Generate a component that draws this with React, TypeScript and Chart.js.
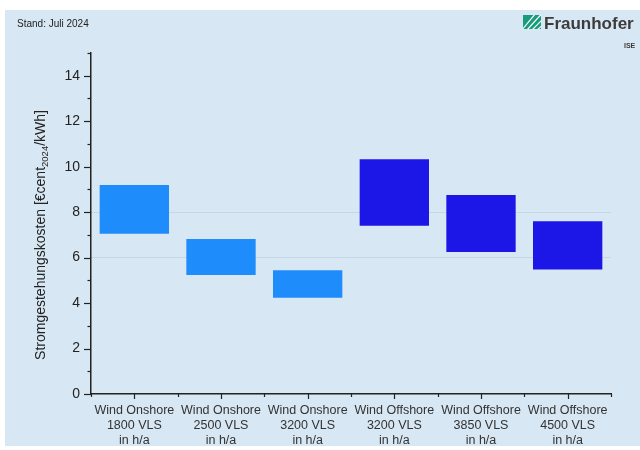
import { useEffect, useRef } from "react";
import { Chart, registerables } from "chart.js";

Chart.register(...registerables);

const categories: string[][] = [
  ["Wind Onshore", "1800 VLS", "in h/a"],
  ["Wind Onshore", "2500 VLS", "in h/a"],
  ["Wind Onshore", "3200 VLS", "in h/a"],
  ["Wind Offshore", "3200 VLS", "in h/a"],
  ["Wind Offshore", "3850 VLS", "in h/a"],
  ["Wind Offshore", "4500 VLS", "in h/a"],
];
const lowValues = [7.05, 5.24, 4.23, 7.4, 6.25, 5.48];
const highValues = [9.19, 6.82, 5.44, 10.33, 8.75, 7.6];
const barColors = ["#1f8cfb", "#1f8cfb", "#1f8cfb", "#1c17e6", "#1c17e6", "#1c17e6"];
const yMin = 0;
const yMax = 15;
const yLabelValues = [0, 2, 4, 6, 8, 10, 12, 14];
const gridValues = [6, 8];
const yTitleMain = "Stromgestehungskosten [€cent";
const yTitleSub = "2024";
const yTitleEnd = "/kWh]";
const standText = "Stand: Juli 2024";
const logoText = "Fraunhofer";
const logoSub = "ISE";

const decorPlugin = {
  id: "decor",
  beforeDraw(chart: any) {
    const ctx = chart.ctx;
    ctx.save();
    ctx.fillStyle = "#ffffff";
    ctx.fillRect(0, 0, chart.width, chart.height);
    ctx.fillStyle = "#d7e7f3";
    ctx.fillRect(5, 10, chart.width - 5, 436);
    // Stand text
    ctx.fillStyle = "#222";
    ctx.font = "10px Arial, 'Liberation Sans', sans-serif";
    ctx.textBaseline = "middle";
    ctx.textAlign = "left";
    ctx.fillText(standText, 17, 24);
    // Logo icon
    ctx.fillStyle = "#179c7d";
    ctx.fillRect(523, 15, 18, 14);
    ctx.strokeStyle = "#ffffff";
    ctx.lineWidth = 1.2;
    ctx.beginPath();
    ctx.rect(523, 15, 18, 14);
    ctx.clip();
    for (let i = 0; i < 5; i++) {
      ctx.beginPath();
      ctx.moveTo(521 + i * 5, 31);
      ctx.lineTo(536 + i * 5, 13 + i * 1.5);
      ctx.stroke();
    }
    ctx.restore();
    ctx.save();
    ctx.fillStyle = "#3c3c3c";
    ctx.textBaseline = "alphabetic";
    ctx.textAlign = "left";
    let fs = 17;
    ctx.font = `bold ${fs}px Arial, 'Liberation Sans', sans-serif`;
    const w = ctx.measureText(logoText).width;
    if (w > 92) {
      fs = (fs * 92) / w;
      ctx.font = `bold ${fs}px Arial, 'Liberation Sans', sans-serif`;
    }
    ctx.fillText(logoText, 544, 29);
    ctx.font = "bold 7px Arial, sans-serif";
    ctx.fillText(logoSub, 624, 48);
    ctx.restore();
  },
  afterDraw(chart: any) {
    const ctx = chart.ctx;
    const x = chart.scales.x;
    const y = chart.scales.y;
    const left = chart.chartArea.left;
    const bottom = chart.chartArea.bottom;
    ctx.save();
    ctx.strokeStyle = "#222";
    ctx.lineWidth = 1.2;
    // y ticks
    for (let v = yMin; v <= yMax; v++) {
      const py = Math.round(y.getPixelForValue(v)) + 0.5;
      const len = v % 2 === 0 ? 7 : 3.5;
      ctx.beginPath();
      ctx.moveTo(left - len, py);
      ctx.lineTo(left, py);
      ctx.stroke();
    }
    // x ticks
    const n = categories.length;
    for (let i = 0; i < n; i++) {
      const px = Math.round(x.getPixelForValue(i)) + 0.5;
      ctx.beginPath();
      ctx.moveTo(px, bottom);
      ctx.lineTo(px, bottom + 5);
      ctx.stroke();
    }
    for (let i = 0; i <= n; i++) {
      const px = Math.round(x.getPixelForValue(i - 0.5)) + 0.5;
      ctx.beginPath();
      ctx.moveTo(px, bottom);
      ctx.lineTo(px, bottom + 3);
      ctx.stroke();
    }
    // y title with subscript
    const mainFont = "14px Arial, 'Liberation Sans', sans-serif";
    const subFont = "9.5px Arial, 'Liberation Sans', sans-serif";
    ctx.font = mainFont;
    const w1 = ctx.measureText(yTitleMain).width;
    const w3 = ctx.measureText(yTitleEnd).width;
    ctx.font = subFont;
    const w2 = ctx.measureText(yTitleSub).width;
    const total = w1 + w2 + w3;
    ctx.translate(45, 235);
    ctx.rotate(-Math.PI / 2);
    ctx.fillStyle = "#222";
    ctx.textBaseline = "alphabetic";
    ctx.textAlign = "left";
    let cx = -total / 2;
    ctx.font = mainFont;
    ctx.fillText(yTitleMain, cx, 0);
    cx += w1;
    ctx.font = subFont;
    ctx.fillText(yTitleSub, cx, 3);
    cx += w2;
    ctx.font = mainFont;
    ctx.fillText(yTitleEnd, cx, 0);
    ctx.restore();
  },
};

export default function App() {
  const ref = useRef<HTMLCanvasElement>(null);
  useEffect(() => {
    document.body.style.margin = "0";
    const canvas = ref.current!;
    const chart = new Chart(canvas, {
      type: "bar",
      data: {
        labels: categories,
        datasets: [
          {
            data: lowValues.map((lo, i) => [lo, highValues[i]]) as any,
            backgroundColor: barColors,
            borderWidth: 0,
            barPercentage: 0.8,
            categoryPercentage: 1,
          },
        ],
      },
      options: {
        responsive: false,
        animation: false,
        layout: { padding: { left: 0, right: 29, top: 53, bottom: 0 } },
        plugins: {
          legend: { display: false },
          tooltip: { enabled: false },
          title: { display: false },
        },
        scales: {
          x: {
            grid: { display: false, drawTicks: false },
            border: { display: true, color: "#222", width: 1.5 },
            ticks: {
              color: "#333",
              font: { family: "Arial, 'Liberation Sans', sans-serif", size: 12.5, lineHeight: 1.2 },
              padding: 9,
              maxRotation: 0,
              autoSkip: false,
            },
            afterFit(scale: any) {
              scale.height = 56;
            },
          },
          y: {
            min: yMin,
            max: yMax,
            grid: {
              drawTicks: false,
              color: (c: any) =>
                c.tick && gridValues.includes(c.tick.value) ? "rgba(160,175,190,0.3)" : "rgba(0,0,0,0)",
              lineWidth: 1,
            },
            border: { display: true, color: "#222", width: 1.5 },
            ticks: {
              stepSize: 1,
              autoSkip: false,
              color: "#222",
              padding: 11,
              font: { family: "Arial, 'Liberation Sans', sans-serif", size: 14 },
              callback: (v: any) => (yLabelValues.includes(Number(v)) ? String(v) : ""),
            },
            afterFit(scale: any) {
              scale.width = 91;
            },
          },
        },
      },
      plugins: [decorPlugin],
    });
    return () => chart.destroy();
  }, []);
  return <canvas ref={ref} width={640} height={450} style={{ display: "block" }} />;
}
